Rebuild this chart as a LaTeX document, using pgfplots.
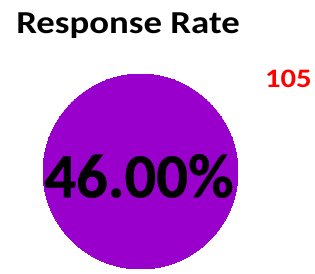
\documentclass[border=0pt]{standalone}
\usepackage{pgfplots}
\pgfplotsset{compat=1.18}
\usepackage{fontspec}
\setmainfont{Carlito}
\newfontfamily\widefont[FakeStretch=1.15]{Carlito}
\newfontfamily\heavyfont[FakeBold=0.6]{Carlito}
\definecolor{rrpurple}{RGB}{153,0,204}
\begin{document}
\begin{tikzpicture}[x=0.75pt,y=0.75pt]
\useasboundingbox (0,0) rectangle (315,274);
\begin{axis}[
  at={(0,0)}, anchor=south west,
  scale only axis, width=236.25pt, height=205.5pt,
  xmin=0, xmax=315, ymin=0, ymax=274,
  hide axis, clip=false,
]
\addplot[only marks, mark=*, mark size=73.1pt,
  mark options={draw=rrpurple, fill=rrpurple, line width=0pt}] coordinates {(140.5,102.5)};
\end{axis}
\node[anchor=base west, inner sep=0pt, font=\widefont\fontsize{24}{28}\selectfont\bfseries]
  at (16,240.7) {Response Rate};
\node[anchor=base, inner sep=0pt, font=\heavyfont\fontsize{47}{52}\selectfont\bfseries]
  at (139,76.7) {46.00\%};
\node[anchor=base east, inner sep=0pt, text=red, font=\widefont\fontsize{20}{24}\selectfont\bfseries]
  at (312,186) {105};
\end{tikzpicture}
\end{document}
